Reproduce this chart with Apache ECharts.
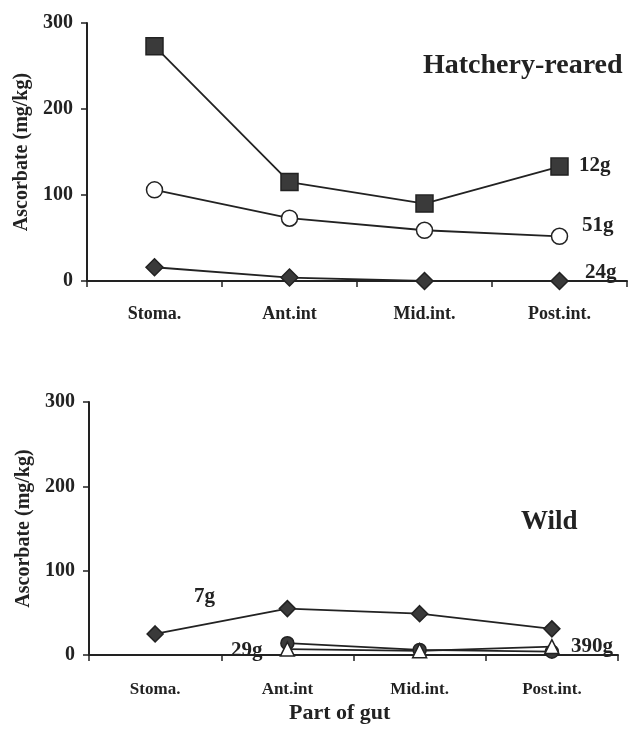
<!DOCTYPE html>
<html><head><meta charset="utf-8">
<script src="https://cdn.jsdelivr.net/npm/echarts@6/dist/echarts.min.js"></script>
<style>html,body{margin:0;padding:0;background:#fff}#c{width:629px;height:737px}</style>
</head><body><div id="c"></div>
<script>
const categories = ['Stoma.', 'Ant.int', 'Mid.int.', 'Post.int.'];
const yTicks = [0, 100, 200, 300];
// Hatchery-reared
const h12g = [273, 115, 90, 133];
const h51g = [106, 73, 59, 52];
const h24g = [16, 4, 0, 0];
// Wild
const w7g = [25, 55, 49, 31];
const w29g = [null, 14, 6, 4];
const w390g = [null, 7, 5, 10];

const F = '"Liberation Serif", "Times New Roman", serif';
const ink = '#222';
const chart = echarts.init(document.getElementById('c'));

function xAxis(idx, size, margin) {
  return {
    type: 'category', gridIndex: idx, data: categories, boundaryGap: true,
    axisLine: {lineStyle: {color: ink, width: 2}},
    axisTick: {show: true, alignWithLabel: false, length: 6, inside: false, lineStyle: {color: ink, width: 1.5}},
    axisLabel: {color: ink, fontFamily: F, fontWeight: 'bold', fontSize: size, margin: margin}
  };
}
function yAxis(idx) {
  return {
    type: 'value', gridIndex: idx, min: 0, max: 300, interval: 100,
    name: 'Ascorbate (mg/kg)', nameLocation: 'middle', nameGap: 55, nameRotate: 90,
    nameTextStyle: {color: ink, fontFamily: F, fontWeight: 'bold', fontSize: 20},
    axisLine: {show: true, lineStyle: {color: ink, width: 2}},
    axisTick: {show: true, length: 6, lineStyle: {color: ink, width: 1.5}},
    splitLine: {show: false},
    axisLabel: {color: ink, fontFamily: F, fontWeight: 'bold', fontSize: 20, margin: 14,
      formatter: v => yTicks.includes(v) ? String(v) : ''}
  };
}
function line(data, xi, symbol, size, fill) {
  return {
    type: 'line', xAxisIndex: xi, yAxisIndex: xi, data: data, symbol: symbol, symbolSize: size,
    showAllSymbol: true, connectNulls: false, silent: true, clip: false,
    lineStyle: {color: ink, width: 1.8},
    itemStyle: {color: fill, borderColor: ink, borderWidth: 1.5},
    z: 3
  };
}
const txt = (x, y, t, size) => ({type: 'text', left: x, top: y,
  style: {text: t, fill: ink, font: 'bold ' + size + 'px ' + F}});

chart.setOption({
  animation: false,
  backgroundColor: '#fff',
  grid: [
    {left: 87, top: 23, width: 540, height: 258},
    {left: 89, top: 402, width: 529, height: 253}
  ],
  xAxis: [xAxis(0, 18, 24), xAxis(1, 17, 26)],
  yAxis: [yAxis(0), yAxis(1)],
  series: [
    line(h12g, 0, 'rect', 17, '#3a3a3a'),
    line(h51g, 0, 'circle', 16, '#fff'),
    line(h24g, 0, 'diamond', 17, '#3a3a3a'),
    line(w7g, 1, 'diamond', 16, '#3a3a3a'),
    line(w29g, 1, 'circle', 13, '#3a3a3a'),
    line(w390g, 1, 'triangle', 14, '#fff')
  ],
  graphic: [
    txt(423, 52, 'Hatchery-reared', 28),
    txt(579, 155, '12g', 21),
    txt(582, 215, '51g', 21),
    txt(585, 262, '24g', 21),
    txt(521, 509, 'Wild', 27),
    txt(194, 586, '7g', 21),
    txt(231, 640, '29g', 21),
    txt(571, 636, '390g', 21),
    txt(289, 702, 'Part of gut', 22)
  ]
});
</script></body></html>
